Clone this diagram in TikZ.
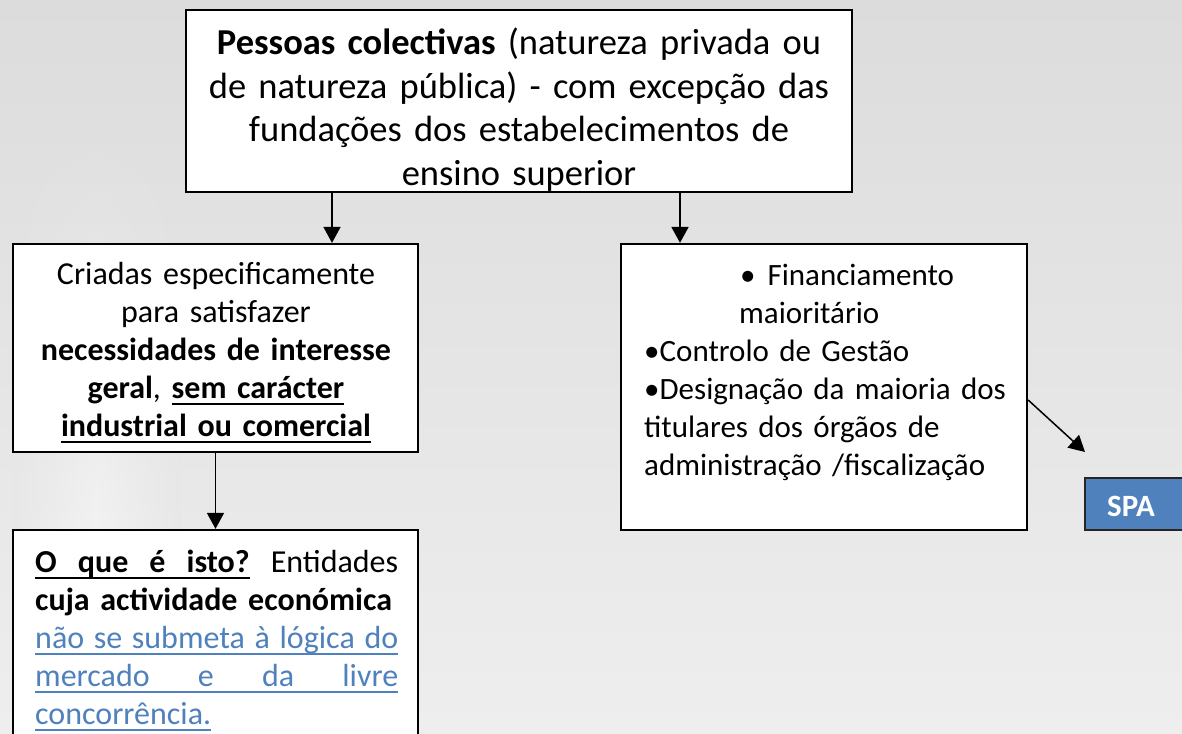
\documentclass[tikz,border=0pt]{standalone}
\usepackage{fontspec}
\setmainfont{Carlito}
\usetikzlibrary{arrows.meta,fadings}
\definecolor{linkblue}{HTML}{4F81BD}
\definecolor{spablue}{HTML}{4F81BD}
\definecolor{bgtop}{HTML}{DCDCDC}
\definecolor{bgbot}{HTML}{EEEEEE}
\definecolor{bgmid}{HTML}{E6E6E6}
\tikzfading[name=streakfade, top color=transparent!100, bottom color=transparent!40]
\newbox\myulbox
\newcommand{\ulw}[1]{\leavevmode\setbox\myulbox\hbox{#1}\rlap{\vrule height -5pt depth 6.8pt width \wd\myulbox}\box\myulbox}
\newcommand{\ulfill}{\leaders\hrule height -5pt depth 6.8pt\hfill}
\begin{document}
\begin{tikzpicture}[x=1pt,y=-1pt,
  box/.style={draw=black, line width=2.3pt, fill=white},
  arr/.style={draw=black, line width=1.8pt, -{Triangle[length=16pt,width=17pt]}},
  txt/.style={inner sep=0pt, text=black},
  bigfont/.style={font=\fontsize{36.5}{43.5}\selectfont},
  midfont/.style={font=\fontsize{32}{38}\selectfont},
  rfont/.style={font=\fontsize{31}{38}\selectfont}]
\useasboundingbox (0,0) rectangle (1182,733);
\clip (0,0) rectangle (1182,733);
% background
\shade[top color=bgtop, bottom color=bgbot] (0,0) rectangle (1182,733);
\shade[left color=bgmid, right color=bgmid, middle color=white, path fading=streakfade] (12,120) rectangle (180,733);
% boxes
\node[box, minimum width=666pt, minimum height=182pt] (top) at (519,101) {};
\node[box, minimum width=405pt, minimum height=208pt] (lbox) at (215.5,348) {};
\node[box, minimum width=406pt, minimum height=286pt] (rbox) at (824,387) {};
\node[box, minimum width=405pt, minimum height=230pt] (qbox) at (215.5,645) {};
\node[draw=black!85, line width=1.6pt, fill=spablue, minimum width=100pt, minimum height=52pt] (spa) at (1135,504) {};
\node[inner sep=0pt, text=white, font=\fontsize{31}{34}\selectfont\bfseries, anchor=base] (spatext) at (1131,516) {SPA};
% texts
\node[txt, bigfont, anchor=base, text width=660pt, align=center] (toptext) at (519,55)
  {\textbf{Pessoas colectivas} (natureza privada ou\\
   de natureza pública) - com excepção das\\
   fundações dos estabelecimentos de\\
   ensino superior};
\node[txt, midfont, anchor=base, text width=400pt, align=center] (ltext) at (216,284)
  {Criadas especificamente\\
   para satisfazer\\
   \textbf{necessidades de interesse}\\
   \textbf{geral}, \textbf{\ulw{sem carácter}}\\
   \textbf{\ulw{industrial ou comercial}}};
\node[txt, rfont, anchor=base west, text width=390pt, align=left] (rtext) at (644,285)
  {\hspace*{96pt}\textbullet\hspace{12pt}Financiamento\\
   \hspace*{95pt}maioritário\\
   \textbullet Controlo de Gestão\\
   \textbullet Designação da maioria dos\\
   titulares dos órgãos de\\
   administração /fiscalização};
\node[txt, midfont, anchor=base west, text width=380pt, align=left] (qtext) at (35,572)
  {\makebox[363pt][s]{\bfseries\ulw{O}\ulfill\ulw{que}\ulfill\ulw{é}\ulfill\ulw{isto?}\hfill\mdseries Entidades}\\
   \makebox[363pt][s]{\textbf{cuja actividade económica}}\\
   \makebox[363pt][s]{\color{linkblue}\ulw{não}\ulfill\ulw{se}\ulfill\ulw{submeta}\ulfill\ulw{à}\ulfill\ulw{lógica}\ulfill\ulw{do}}\\
   \makebox[363pt][s]{\color{linkblue}\ulw{mercado}\ulfill\ulw{e}\ulfill\ulw{da}\ulfill\ulw{livre}}\\
   \leavevmode{\color{linkblue}\ulw{concorrência.}}};
% connectors
\coordinate (a1) at (332,0);
\coordinate (a2) at (680,0);
\coordinate (d0) at (0,400);
\coordinate (spatip) at (1085,452);
\draw[arr] (top.south -| a1) -- (lbox.north -| a1);
\draw[arr] (top.south -| a2) -- (rbox.north -| a2);
\draw[arr] (lbox.south) -- (qbox.north);
\draw[arr, line width=1.5pt] (rbox.east |- d0) -- (spatip);
\end{tikzpicture}
\end{document}
